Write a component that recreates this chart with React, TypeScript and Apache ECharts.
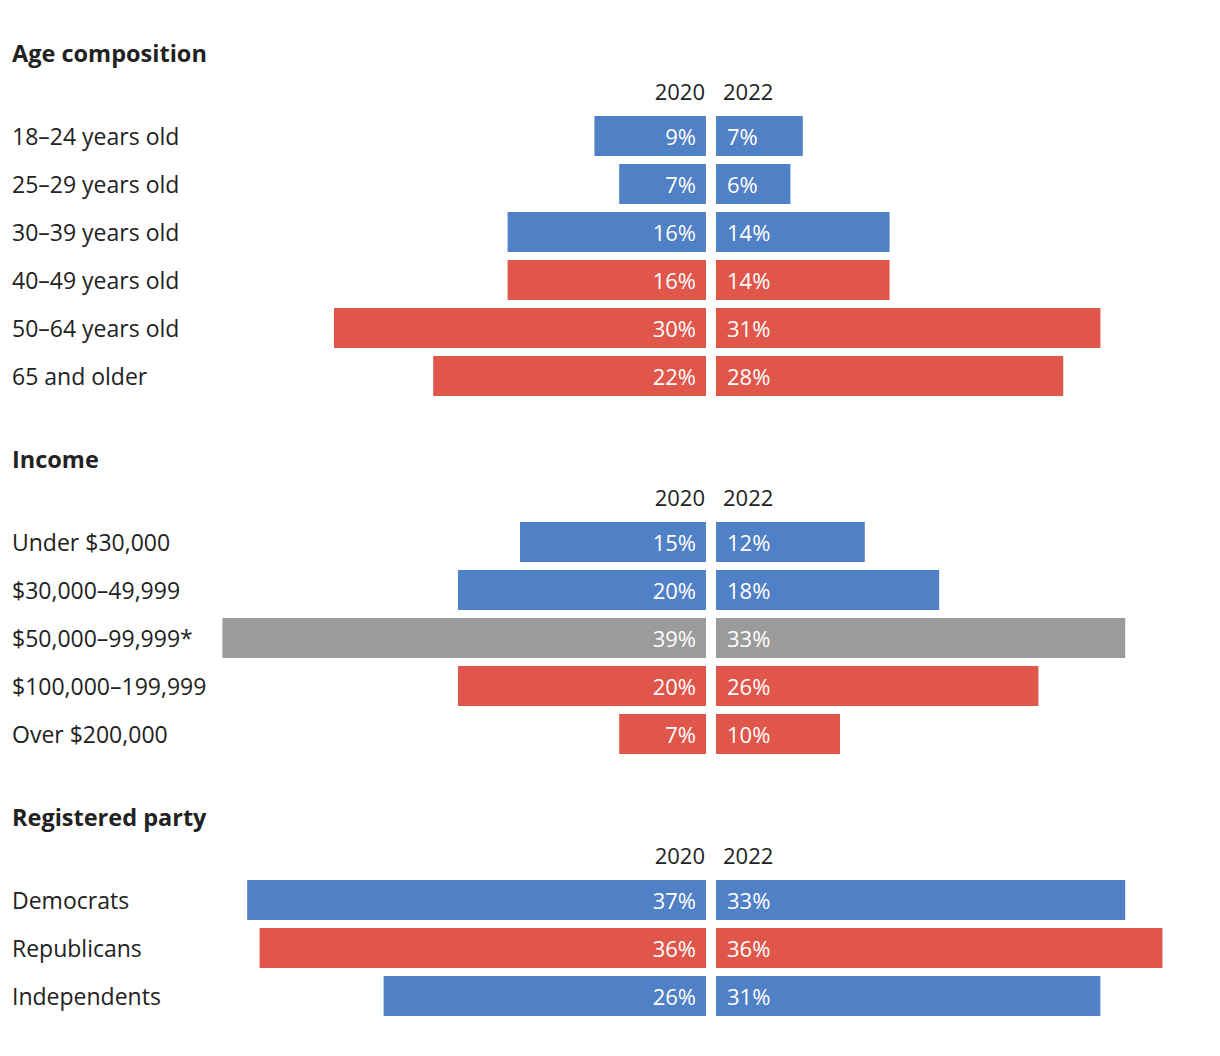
import React, { useEffect, useRef } from "react";
import * as echarts from "echarts";

const sectionTitles = ["Age composition", "Income", "Registered party"];
const yearLabels = ["2020", "2022"];

const ageCategories = [
  "18–24 years old",
  "25–29 years old",
  "30–39 years old",
  "40–49 years old",
  "50–64 years old",
  "65 and older",
];
const age2020 = [9, 7, 16, 16, 30, 22];
const age2022 = [7, 6, 14, 14, 31, 28];
const ageLean = ["D", "D", "D", "R", "R", "R"];

const incomeCategories = [
  "Under $30,000",
  "$30,000–49,999",
  "$50,000–99,999*",
  "$100,000–199,999",
  "Over $200,000",
];
const income2020 = [15, 20, 39, 20, 7];
const income2022 = [12, 18, 33, 26, 10];
const incomeLean = ["D", "D", "N", "R", "R"];

const partyCategories = ["Democrats", "Republicans", "Independents"];
const party2020 = [37, 36, 26];
const party2022 = [33, 36, 31];
const partyLean = ["D", "R", "D"];

const leanColors: Record<string, string> = {
  D: "#5080C6",
  R: "#E0564A",
  N: "#9B9B9B",
};

const FONT = "'Open Sans', 'Noto Sans', sans-serif";

export default function App() {
  const ref = useRef<HTMLDivElement>(null);

  useEffect(() => {
    document.body.style.margin = "0";
    if (!ref.current) return;
    const chart = echarts.init(ref.current, undefined, { renderer: "svg" });

    const sections = [
      { title: sectionTitles[0], cats: ageCategories, a: age2020, b: age2022, lean: ageLean, top: 112 },
      { title: sectionTitles[1], cats: incomeCategories, a: income2020, b: income2022, lean: incomeLean, top: 518 },
      { title: sectionTitles[2], cats: partyCategories, a: party2020, b: party2022, lean: partyLean, top: 876 },
    ];

    const ROW = 48;
    const CENTER_L = 706;
    const CENTER_R = 716;
    const WIDTH = 496;
    const MAX = 40;

    const grid: any[] = [];
    const xAxis: any[] = [];
    const yAxis: any[] = [];
    const series: any[] = [];
    const graphic: any[] = [];

    sections.forEach((s, i) => {
      const h = s.cats.length * ROW;
      [0, 1].forEach((side) => {
        const idx = i * 2 + side;
        grid.push({
          left: side === 0 ? CENTER_L - WIDTH : CENTER_R,
          width: WIDTH,
          top: s.top,
          height: h,
          containLabel: false,
        });
        xAxis.push({
          gridIndex: idx,
          type: "value",
          min: 0,
          max: MAX,
          inverse: side === 0,
          show: false,
        });
        yAxis.push({
          gridIndex: idx,
          type: "category",
          data: s.cats,
          inverse: true,
          axisLine: { show: false },
          axisTick: { show: false },
          splitLine: { show: false },
          axisLabel:
            side === 0
              ? {
                  show: true,
                  align: "left",
                  verticalAlign: "middle",
                  margin: CENTER_L - WIDTH - 12,
                  color: "#222",
                  fontSize: 23,
                  fontFamily: FONT,
                  padding: [0, 0, 4, 0],
                }
              : { show: false },
        });
        const vals = side === 0 ? s.a : s.b;
        series.push({
          type: "bar",
          xAxisIndex: idx,
          yAxisIndex: idx,
          barWidth: 40,
          data: vals.map((v, j) => ({
            value: v,
            itemStyle: { color: leanColors[s.lean[j]] },
          })),
          label: {
            show: true,
            position: side === 0 ? "insideRight" : "insideLeft",
            distance: side === 0 ? 10 : 11,
            formatter: "{c}%",
            color: "#fff",
            fontSize: 22,
            fontFamily: FONT,
            padding: [0, 0, 3, 0],
          },
        });
      });

      graphic.push({
        type: "text",
        x: 12,
        y: s.top - 59,
        style: {
          text: s.title,
          fill: "#222",
          font: `bold 23.5px ${FONT}`,
          verticalAlign: "middle",
        },
      });
      graphic.push({
        type: "text",
        x: CENTER_L - 1,
        y: s.top - 21,
        style: {
          text: yearLabels[0],
          fill: "#222",
          font: `22px ${FONT}`,
          align: "right",
          verticalAlign: "middle",
        },
      });
      graphic.push({
        type: "text",
        x: CENTER_R + 7,
        y: s.top - 21,
        style: {
          text: yearLabels[1],
          fill: "#222",
          font: `22px ${FONT}`,
          align: "left",
          verticalAlign: "middle",
        },
      });
    });

    chart.setOption({
      animation: false,
      backgroundColor: "#fff",
      textStyle: { fontFamily: FONT },
      grid,
      xAxis,
      yAxis,
      series,
      graphic,
    });

    return () => chart.dispose();
  }, []);

  return <div ref={ref} style={{ width: 1220, height: 1056 }} />;
}
